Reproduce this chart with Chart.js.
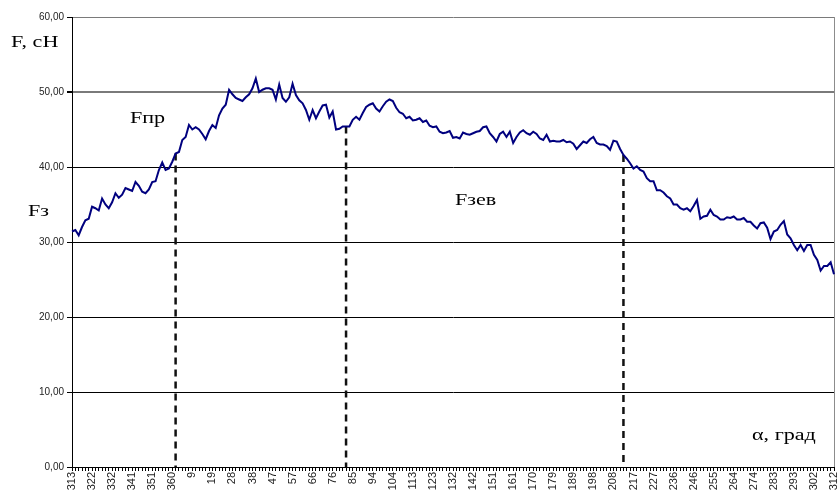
<!DOCTYPE html>
<html>
<head>
<meta charset="utf-8">
<script src="https://cdn.jsdelivr.net/npm/chart.js@4.4.1/dist/chart.umd.min.js"></script>
<style>
  html, body { margin: 0; padding: 0; background: #ffffff; }
  #wrap { width: 837px; height: 493px; position: relative; }
</style>
</head>
<body>
<div id="wrap"><canvas id="chart" width="837" height="493"></canvas></div>
<script>
// Angle labels shown on the horizontal axis (one every six samples), degrees
const angleTicks = [313, 322, 332, 341, 351, 360, 9, 19, 28, 38, 47, 57, 66, 76, 85, 94, 104, 113, 123,
  132, 142, 151, 161, 170, 179, 189, 198, 208, 217, 227, 236, 246, 255, 264, 274, 283, 293, 302, 312];

// Measured force per sample, cN
const forceValues = [
  31.4, 31.6, 30.9, 32.0, 32.9, 33.1, 34.7, 34.5, 34.2, 35.8,
  35.0, 34.5, 35.3, 36.5, 35.9, 36.3, 37.2, 37.0, 36.8, 38.0,
  37.5, 36.7, 36.5, 37.0, 38.0, 38.1, 39.6, 40.6, 39.6, 39.8,
  40.7, 41.8, 42.0, 43.6, 44.0, 45.6, 45.0, 45.3, 45.0, 44.4,
  43.7, 44.8, 45.6, 45.2, 46.9, 47.8, 48.3, 50.3, 49.7, 49.2,
  49.0, 48.8, 49.3, 49.7, 50.5, 51.8, 50.0, 50.3,
  50.5, 50.5, 50.3, 49.0, 51.0, 49.2, 48.7, 49.3, 51.1, 49.6,
  48.9, 48.5, 47.6, 46.3, 47.6, 46.5, 47.4, 48.2, 48.3, 46.6,
  47.4, 45.0, 45.1, 45.4, 45.4, 45.4, 46.3, 46.7, 46.3, 47.2,
  48.0, 48.3, 48.5, 47.8, 47.4, 48.1, 48.7, 49.0, 48.8, 47.9,
  47.3, 47.1, 46.5, 46.7, 46.2, 46.3, 46.5, 46.0, 46.2, 45.5,
  45.3, 45.4, 44.7, 44.5, 44.6,
  44.8, 43.9, 44.0, 43.8, 44.6, 44.4, 44.3, 44.5, 44.7, 44.8,
  45.3, 45.4, 44.5, 44.0, 43.4, 44.4, 44.7, 44.0, 44.7, 43.2,
  44.0, 44.6, 44.9, 44.5, 44.3, 44.7, 44.4, 43.8, 43.6, 44.3,
  43.4, 43.5, 43.4, 43.4, 43.6, 43.3, 43.4, 43.1, 42.4, 42.9,
  43.4, 43.2, 43.7, 44.0, 43.2, 43.0, 43.0, 42.8, 42.3, 43.5,
  43.4, 42.4, 41.6, 41.1, 40.5, 39.8,
  40.1, 39.6, 39.4, 38.5, 38.1, 38.1, 36.9, 36.9, 36.6, 36.1,
  35.8, 35.0, 35.0, 34.5, 34.3, 34.5, 34.1, 34.8, 35.6, 33.1,
  33.4, 33.5, 34.3, 33.6, 33.4, 33.0, 33.0, 33.3, 33.2, 33.4,
  33.0, 33.0, 33.2, 32.7, 32.7, 32.2, 31.8, 32.5, 32.6, 31.9,
  30.4, 31.4, 31.6, 32.3, 32.8, 31.0, 30.5, 29.6, 28.9, 29.6,
  28.8, 29.6, 29.6, 28.3, 27.6, 26.2, 26.8, 26.8, 27.3, 25.7
];

// Sample indices where the phases change (dashed markers)
const boundaryPoints = [31, 82, 165];

// Sample index categories
const categories = forceValues.map((_, i) => i);
const labelEvery = 6;

const serif = '"Liberation Serif", "Times New Roman", serif';
const sans = '"Liberation Sans", Arial, sans-serif';

// Free text on the chart: left x, baseline y (px)
const notes = [
  { text: 'F, сН', x: 11, y: 47 },
  { text: 'Fпр', x: 130, y: 123 },
  { text: 'Fз', x: 28, y: 216 },
  { text: 'Fзев', x: 455, y: 205 },
  { text: 'α, град', x: 752, y: 440 }
];

const decorations = {
  id: 'decorations',
  beforeDatasetsDraw(chart) {
    const { ctx, chartArea, scales } = chart;
    const xs = scales.x, ys = scales.y;
    ctx.save();
    // right frame of the plot area
    ctx.strokeStyle = '#8c8c8c';
    ctx.lineWidth = 1;
    ctx.beginPath();
    ctx.moveTo(Math.round(chartArea.right) + 0.5, chartArea.top);
    ctx.lineTo(Math.round(chartArea.right) + 0.5, chartArea.bottom);
    ctx.stroke();
    // dashed phase boundaries from the curve down to the axis
    ctx.strokeStyle = '#111111';
    ctx.lineWidth = 2.5;
    ctx.setLineDash([7, 5]);
    boundaryPoints.forEach(idx => {
      const x = xs.getPixelForValue(idx);
      ctx.beginPath();
      ctx.moveTo(x, ys.getPixelForValue(forceValues[idx]));
      ctx.lineTo(x, ys.getPixelForValue(0));
      ctx.stroke();
    });
    ctx.restore();
  },
  afterDraw(chart) {
    const { ctx } = chart;
    ctx.save();
    ctx.fillStyle = '#000000';
    ctx.font = '17px ' + serif;
    ctx.textAlign = 'left';
    ctx.textBaseline = 'alphabetic';
    notes.forEach(n => {
      ctx.save();
      ctx.translate(n.x, n.y);
      ctx.scale(1.3, 1);
      ctx.fillText(n.text, 0, 0);
      ctx.restore();
    });
    ctx.restore();
  }
};

new Chart(document.getElementById('chart'), {
  type: 'line',
  data: {
    labels: categories,
    datasets: [{
      data: forceValues,
      borderColor: '#00007f',
      borderWidth: 2,
      pointRadius: 0,
      tension: 0,
      fill: false
    }]
  },
  options: {
    responsive: false,
    animation: false,
    devicePixelRatio: 1,
    layout: { padding: { top: 17, right: 3, left: 0, bottom: 0 } },
    plugins: { legend: { display: false }, tooltip: { enabled: false } },
    scales: {
      x: {
        type: 'category',
        offset: false,
        grid: { display: true, drawOnChartArea: false, drawTicks: true, tickLength: 4, color: '#000', tickColor: '#000' },
        border: { display: true, color: '#000', width: 1 },
        ticks: {
          autoSkip: false,
          maxRotation: 90,
          minRotation: 90,
          padding: 1,
          color: '#222',
          font: { family: sans, size: 11 },
          callback: (v, i) => (i % labelEvery === 0 ? String(angleTicks[i / labelEvery]) : '')
        },
        afterFit: s => { s.height = 26; s.paddingLeft = 0; s.paddingRight = 0; }
      },
      y: {
        min: 0,
        max: 60,
        ticks: {
          stepSize: 10,
          padding: 3,
          color: '#222',
          font: { family: sans, size: 10 },
          callback: v => v.toFixed(2).replace('.', ',')
        },
        grid: {
          color: c => (c.tick && c.tick.value >= 50 ? '#7a7a7a' : '#000'),
          lineWidth: c => (c.tick && c.tick.value === 50 ? 2 : 1),
          tickLength: 5,
          tickColor: '#000'
        },
        border: { color: '#000', width: 1 },
        afterFit: s => { s.width = 72; s.paddingTop = 0; s.paddingBottom = 0; }
      }
    }
  },
  plugins: [decorations]
});
</script>
</body>
</html>
